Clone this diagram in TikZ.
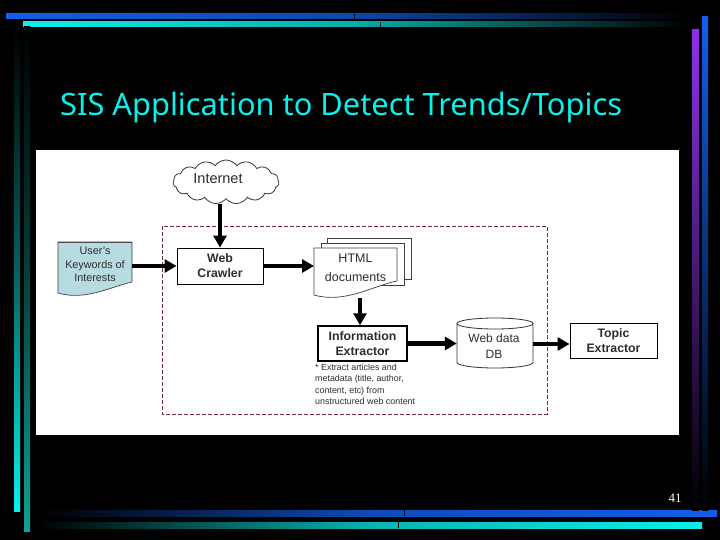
\documentclass[tikz,border=0pt]{standalone}
\usepackage{fontspec}
\setmainfont{Liberation Sans}
\newfontfamily\titlefont{Noto Sans}
\newfontfamily\numfont{Liberation Serif}
\usetikzlibrary{arrows.meta,shapes.symbols}
\definecolor{barblue}{RGB}{16,96,232}
\definecolor{barcyan}{RGB}{10,240,235}
\definecolor{barteal}{RGB}{15,160,150}
\definecolor{barpurple}{RGB}{140,50,230}
\definecolor{inktext}{RGB}{45,45,45}
\definecolor{docblue}{RGB}{182,220,226}
\definecolor{dashred}{RGB}{120,40,60}
\tikzset{
  procbox/.style={draw=black,fill=white,line width=.9pt,inner sep=0pt,align=center,text=inktext,font=\fontsize{12.3}{15}\selectfont\bfseries},
  labeltext/.style={align=center,text=inktext,inner sep=0pt,font=\fontsize{11.5}{14}\selectfont},
  flow/.style={line width=4.2pt,-{Triangle[length=12pt,width=13pt]},black},
  docedge/.style={draw=black!75,line width=.7pt,fill=white},
  notetext/.style={align=left,anchor=north west,text=inktext,inner sep=0pt,font=\fontsize{8.9}{11.2}\selectfont},
  tick/.style={black,line width=.6pt},
}
\begin{document}
\begin{tikzpicture}[x=1pt,y=-1pt]
\fill[black] (0,0) rectangle (720,540);
\useasboundingbox (0,0) rectangle (720,540);
% frame bars
\shade[left color=barblue,right color=black,middle color=barblue!75!black] (6,14) rectangle (690,19);
\shade[left color=barcyan,right color=black,middle color=barcyan!72!black] (23,22) rectangle (690,27);
\shade[left color=black,right color=barblue,middle color=barblue!80!black] (37,510) rectangle (717,516);
\shade[left color=black,right color=barcyan,middle color=barcyan!75!black] (37,522) rectangle (702,528);
\shade[top color=black,bottom color=barcyan,middle color=barcyan!40!black] (14,27) rectangle (20,511);
\shade[top color=black,bottom color=barteal,middle color=barteal!40!black] (24,27) rectangle (30,531);
\shade[top color=barpurple,bottom color=black,middle color=barpurple!50!black] (692,30) rectangle (699,510);
\shade[top color=barblue,bottom color=black,middle color=barblue!50!black] (702,17) rectangle (708,510);
\draw[tick] (354,14) -- (354,19);
\draw[tick] (380,22) -- (380,27);
\draw[tick] (404,510) -- (404,516);
\draw[tick] (398,522) -- (398,528);
% title
\node[anchor=west,inner sep=0pt,text=barcyan] (title) at (60,107.5) {\titlefont\fontsize{30.8}{36}\selectfont SIS Application to Detect Trends/Topics};
% panel
\fill[white] (36,150) rectangle (679,435);
\draw[dashred,line width=.8pt,dashed,dash pattern=on 4pt off 2pt] (162,226) rectangle (547,414);
% cloud
\node[cloud,cloud puffs=15,cloud puff arc=110,aspect=2.4,draw=black!80,fill=white,line width=.8pt,minimum width=106pt,minimum height=44pt,inner sep=0pt] (cloud) at (226,182) {};
\node[labeltext,font=\fontsize{14.5}{16}\selectfont] (inet) at (218,179) {Internet};
\coordinate (cloudout) at (220,204);
% user document
\draw[draw=black!75,line width=.7pt,fill=docblue] (58,242) -- (132,242) -- (132,282) .. controls (110,287) and (85,301) .. (58,293) -- cycle;
\draw[black!70,line width=1pt] (58,242) -- (132,242);
\node[labeltext,font=\fontsize{10.8}{13.2}\selectfont] (users) at (95,264.5) {User's\\Keywords of\\Interests};
% html stack
\draw[docedge] (327,238) rectangle (411,279);
\draw[docedge] (321,243) rectangle (404,285);
\draw[docedge] (314,248) -- (397,248) -- (397,281) .. controls (375,285) and (345,304) .. (314,295) -- cycle;
\node[labeltext,font=\fontsize{12.5}{19}\selectfont] (html) at (355.5,267.5) {HTML\\documents};
% boxes
\node[procbox,minimum width=86pt,minimum height=36pt] (crawler) at (220,266) {Web\\Crawler};
\node[procbox,line width=1.5pt,minimum width=89pt,minimum height=35pt] (extract) at (362.5,343.5) {Information\\Extractor};
\draw[draw=black!80,fill=white,line width=.8pt] (457,323.5) -- (457,362.5) arc[start angle=180,end angle=360,x radius=38pt,y radius=5.5pt] -- (533,323.5) arc[start angle=0,end angle=180,x radius=38pt,y radius=5.5pt] -- cycle;
\draw[draw=black!80,line width=.8pt] (457,323.5) arc[start angle=180,end angle=360,x radius=38pt,y radius=5.5pt];
\node[minimum width=76pt,minimum height=50pt,inner sep=0pt] (db) at (495,343) {};
\node[labeltext,font=\fontsize{12}{16}\selectfont] (dbtext) at (494,346) {Web data\\DB};
\node[procbox,minimum width=87pt,minimum height=35pt] (topic) at (613.5,340.5) {Topic\\Extractor};
\node[notetext] (note) at (315,364) {* Extract articles and\\metadata (title, author,\\content, etc) from\\unstructured web content};
% connectors
\coordinate (htmlin) at (314,266);
\coordinate (htmlout) at (360,298);
\draw[flow] (cloudout) -- (crawler.north);
\coordinate (userout) at (132,266);
\draw[flow] (userout) -- (crawler.west);
\draw[flow] (crawler.east) -- (htmlin);
\draw[flow] (htmlout) -- (htmlout |- extract.north);
\draw[flow] (extract.east) -- (extract.east -| db.west);
\coordinate (dbout) at (533,344);
\draw[flow] (dbout) -- (dbout -| topic.west);
% page number
\node[text=white,inner sep=0pt] (page) at (675,498) {\numfont\fontsize{13}{15}\selectfont 41};
\end{tikzpicture}
\end{document}
